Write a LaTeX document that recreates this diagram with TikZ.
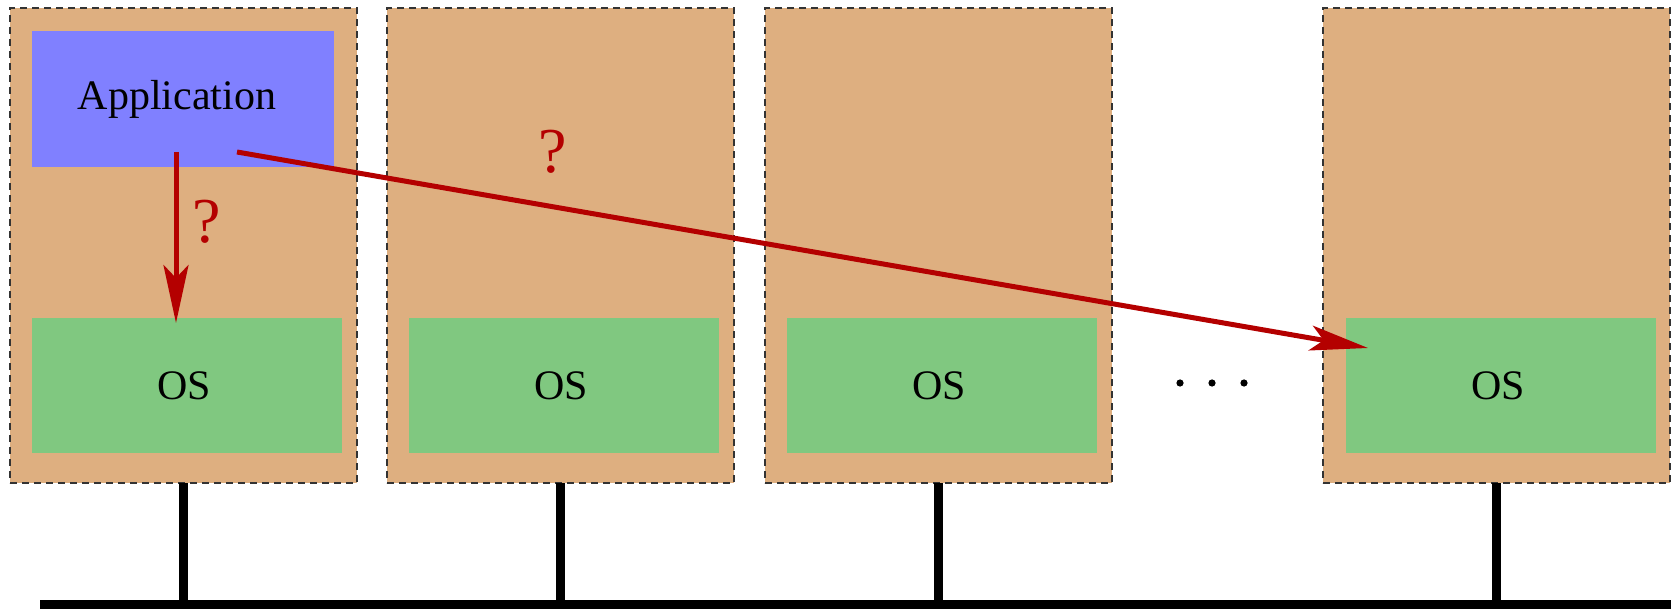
\documentclass[tikz,border=0pt]{standalone}
\usepackage{fontspec}
\setmainfont{Liberation Serif}
\usetikzlibrary{arrows.meta}
\definecolor{hostc}{RGB}{222,175,128}
\definecolor{appc}{RGB}{128,128,255}
\definecolor{osc}{RGB}{128,200,128}
\definecolor{arrc}{RGB}{180,0,0}
\tikzset{
  host/.style={draw=black!80, dashed, dash pattern=on 7pt off 5pt, line width=1.3pt, fill=hostc,
    minimum width=347pt, minimum height=475pt, inner sep=0pt, outer sep=0pt, anchor=north west},
  osbox/.style={fill=osc, minimum width=310pt, minimum height=135pt, inner sep=0pt, outer sep=0pt,
    anchor=north west, font=\fontsize{42}{50}\selectfont},
  appbox/.style={fill=appc, minimum width=302pt, minimum height=136pt, inner sep=0pt, outer sep=0pt,
    anchor=north west, font=\fontsize{42}{50}\selectfont},
  wire/.style={line width=9pt, black},
  qarrow/.style={line width=5pt, arrc, -{Stealth[length=58pt, width=25pt, inset=13pt]}},
  qmark/.style={text=arrc, font=\fontsize{64}{70}\selectfont, inner sep=0pt}
}
\begin{document}
\begin{tikzpicture}[x=1pt,y=-1pt]
\useasboundingbox (0,0) rectangle (1671,609);
% hosts
\node[host] (h1) at (10,8) {};
\node[host] (h2) at (387,8) {};
\node[host] (h3) at (765,8) {};
\node[host] (h4) at (1323,8) {};
% OS boxes
\node[osbox] (os1) at (32,318) {OS\kern5pt};
\node[osbox] (os2) at (409,318) {OS\kern5pt};
\node[osbox] (os3) at (787,318) {OS\kern5pt};
\node[osbox] (os4) at (1346,318) {OS\kern5pt};
% application
\node[appbox] (app) at (32,31) {Application\kern12pt};
% bus
\coordinate (busL) at (40,604.5);
\coordinate (busR) at (1671,604.5);
\draw[wire] (busL) -- (busR);
\foreach \h in {h1,h2,h3,h4}{
  \draw[wire] (\h.south) -- (\h.south |- busL);
}
% dots
\fill (1180,383) circle (3.6pt);
\fill (1212,383) circle (3.6pt);
\fill (1244,383) circle (3.6pt);
% arrows
\coordinate (s1) at (176,152);
\coordinate (t1) at (176,323);
\coordinate (s2) at (237,152);
\coordinate (t2) at (1368,348);
\draw[qarrow] (s1) -- (t1);
\draw[qarrow] (s2) -- (t2);
\node[qmark] (q1) at (207,222) {?};
\node[qmark] (q2) at (553,152) {?};
\end{tikzpicture}
\end{document}
